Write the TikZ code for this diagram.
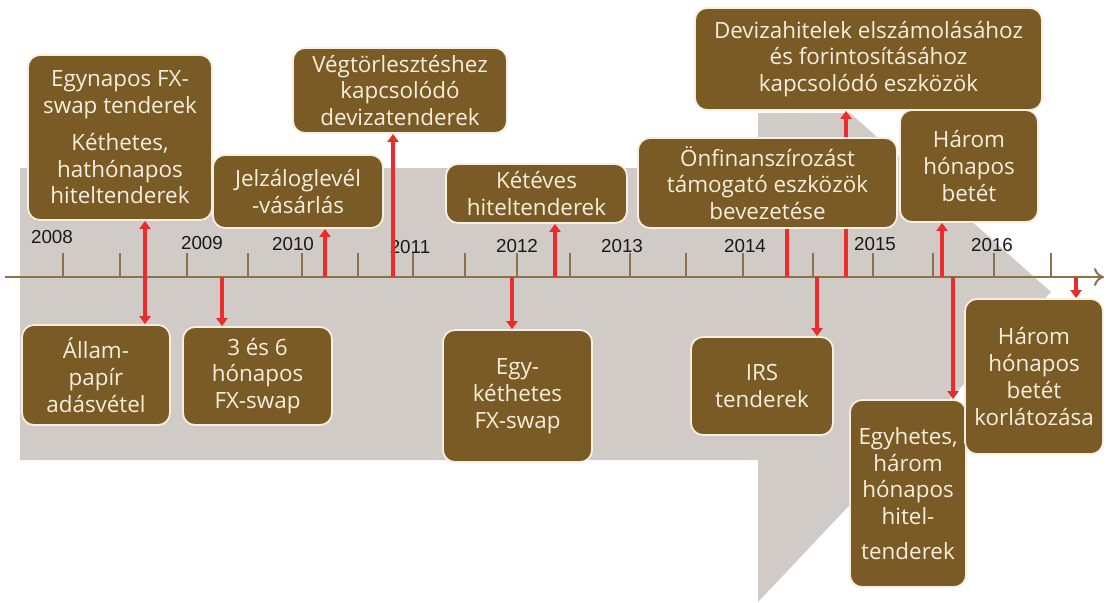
\documentclass[tikz,border=0pt]{standalone}
\usepackage{fontspec}
\setmainfont{Open Sans}
\newfontfamily\yearfont{Liberation Sans}
\usetikzlibrary{arrows.meta,positioning,backgrounds}

\definecolor{bgshape}{RGB}{208,203,198}
\definecolor{boxbrown}{RGB}{122,91,37}
\definecolor{boxtext}{RGB}{246,238,222}
\definecolor{axisbrown}{RGB}{140,114,74}
\definecolor{markred}{RGB}{234,45,44}

\begin{document}
\begin{tikzpicture}[
    x=0.5pt, y=-0.5pt,
    event/.style={rectangle, draw=boxtext, line width=0.9pt, fill=boxbrown, text=boxtext, rounded corners=6pt, align=center, inner sep=2pt, font=\fontsize{11.2}{13.4}\selectfont},
    year/.style={font=\yearfont\fontsize{9.4}{10}\selectfont, text=black!90, inner sep=0pt},
    tickline/.style={axisbrown, line width=0.8pt},
    redarrow/.style={-{Triangle[length=4pt,width=5.5pt]}, markred, line width=2.4pt}
]
\useasboundingbox (0,0) rectangle (1106,602);

% Upper row of events
\node[event, minimum width=92pt, minimum height=82.5pt] (egynapos) at (120,137.5) {
    Egynapos FX-\\
    swap tenderek\\[5pt]
    Kéthetes,\\
    hathónapos\\
    hiteltenderek
};
\node[event, minimum width=85pt, minimum height=36.5pt] (jelzalog) at (298,191.5) {Jelzáloglevél\\-vásárlás};
\node[event, minimum width=107pt, minimum height=42.5pt] (vegtorl) at (400,90.5) {Végtörlesztéshez\\kapcsolódó\\devizatenderek};
\node[event, minimum width=90.5pt, minimum height=29.5pt] (keteves) at (536.5,193.5) {Kétéves\\hiteltenderek};
\node[event, minimum width=173.5pt, minimum height=51pt] (deviza) at (868.5,59) {Devizahitelek elszámolásához\\és forintosításához\\kapcsolódó eszközök};
\node[event, minimum width=129.5pt, minimum height=45pt] (onfin) at (767.5,183) {Önfinanszírozást\\támogató eszközök\\bevezetése};
\node[event, minimum width=69pt, minimum height=56pt] (betet) at (969,166) {Három\\hónapos\\betét};

% Lower row of events
\node[event, minimum width=74pt, minimum height=50pt] (allam) at (96,375) {Állam-\\papír\\adásvétel};
\node[event, minimum width=74.5pt, minimum height=49pt] (fxswap) at (257.5,376) {3 és 6\\hónapos\\FX-swap};
\node[event, minimum width=74.5pt, minimum height=66pt] (egykethetes) at (517.5,396) {Egy-\\kéthetes\\FX-swap};
\node[event, minimum width=71pt, minimum height=49pt] (irs) at (762,386) {IRS\\tenderek};
\node[event, minimum width=58pt, minimum height=93.5pt] (egyhetes) at (908,493.5) {
    Egyhetes,\\
    három\\
    hónapos\\
    hitel-\\[4pt]
    tenderek
};
\node[event, minimum width=69pt, minimum height=77.5pt] (korlat) at (1034,376.5) {Három\\hónapos\\betét\\korlátozása};

\begin{scope}[on background layer]
% Big gray arrow behind the timeline
\fill[bgshape] (20,168) -- (758,168) -- (758,113) -- (850,113) -- (1051,292)
    -- (758,602) -- (758,460) -- (20,460) -- cycle;

% Time axis with ticks and years
\coordinate (axisL) at (5,277);
\coordinate (axisR) at (1104,277);
\draw[axisbrown, line width=1pt, -{To[length=5pt,width=9pt]}] (axisL) -- (axisR);
\foreach \xx in {63,120,187,248,302,358,413,465,517,570,630,686,743,813,873,933,994,1051}
    \draw[tickline] (\xx,277) -- (\xx,253);
\foreach \yr/\xx/\yy in {2008/52/237, 2009/202/243, 2010/293/244, 2011/410/247, 2012/517/246,
                         2013/622/246, 2014/745/246, 2015/875/244, 2016/992/245}
    \node[year] (y\yr) at (\xx,\yy) {\yr};

% Event markers on the axis
\coordinate (m1) at (145,277);
\coordinate (m2) at (222,277);
\coordinate (m3) at (325,277);
\coordinate (m4) at (393,277);
\coordinate (m5) at (512,277);
\coordinate (m6) at (555,277);
\coordinate (m7) at (787,277);
\coordinate (m8) at (817,277);
\coordinate (m9) at (846,277);
\coordinate (m10) at (942,277);
\coordinate (m11) at (953,277);
\coordinate (m12) at (1076,277);

\draw[redarrow] (m1) -- (m1 |- egynapos.south);
\draw[redarrow] (m1) -- (m1 |- allam.north);
\draw[redarrow] (m2) -- (m2 |- fxswap.north);
\draw[redarrow] (m3) -- (m3 |- jelzalog.south);
\draw[redarrow] (m4) -- (m4 |- vegtorl.south);
\draw[redarrow] (m5) -- (m5 |- egykethetes.north);
\draw[redarrow] (m6) -- (m6 |- keteves.south);
\draw[redarrow] (m7) -- (m7 |- onfin.center);
\draw[redarrow] (m8) -- (m8 |- irs.north);
\draw[redarrow] (m9) -- (m9 |- deviza.south);
\draw[redarrow] (m10) -- (m10 |- betet.south);
\draw[redarrow] (m11) -- (m11 |- egyhetes.north);
\draw[redarrow] (m12) -- (m12 |- korlat.north);
\end{scope}

\end{tikzpicture}
\end{document}
